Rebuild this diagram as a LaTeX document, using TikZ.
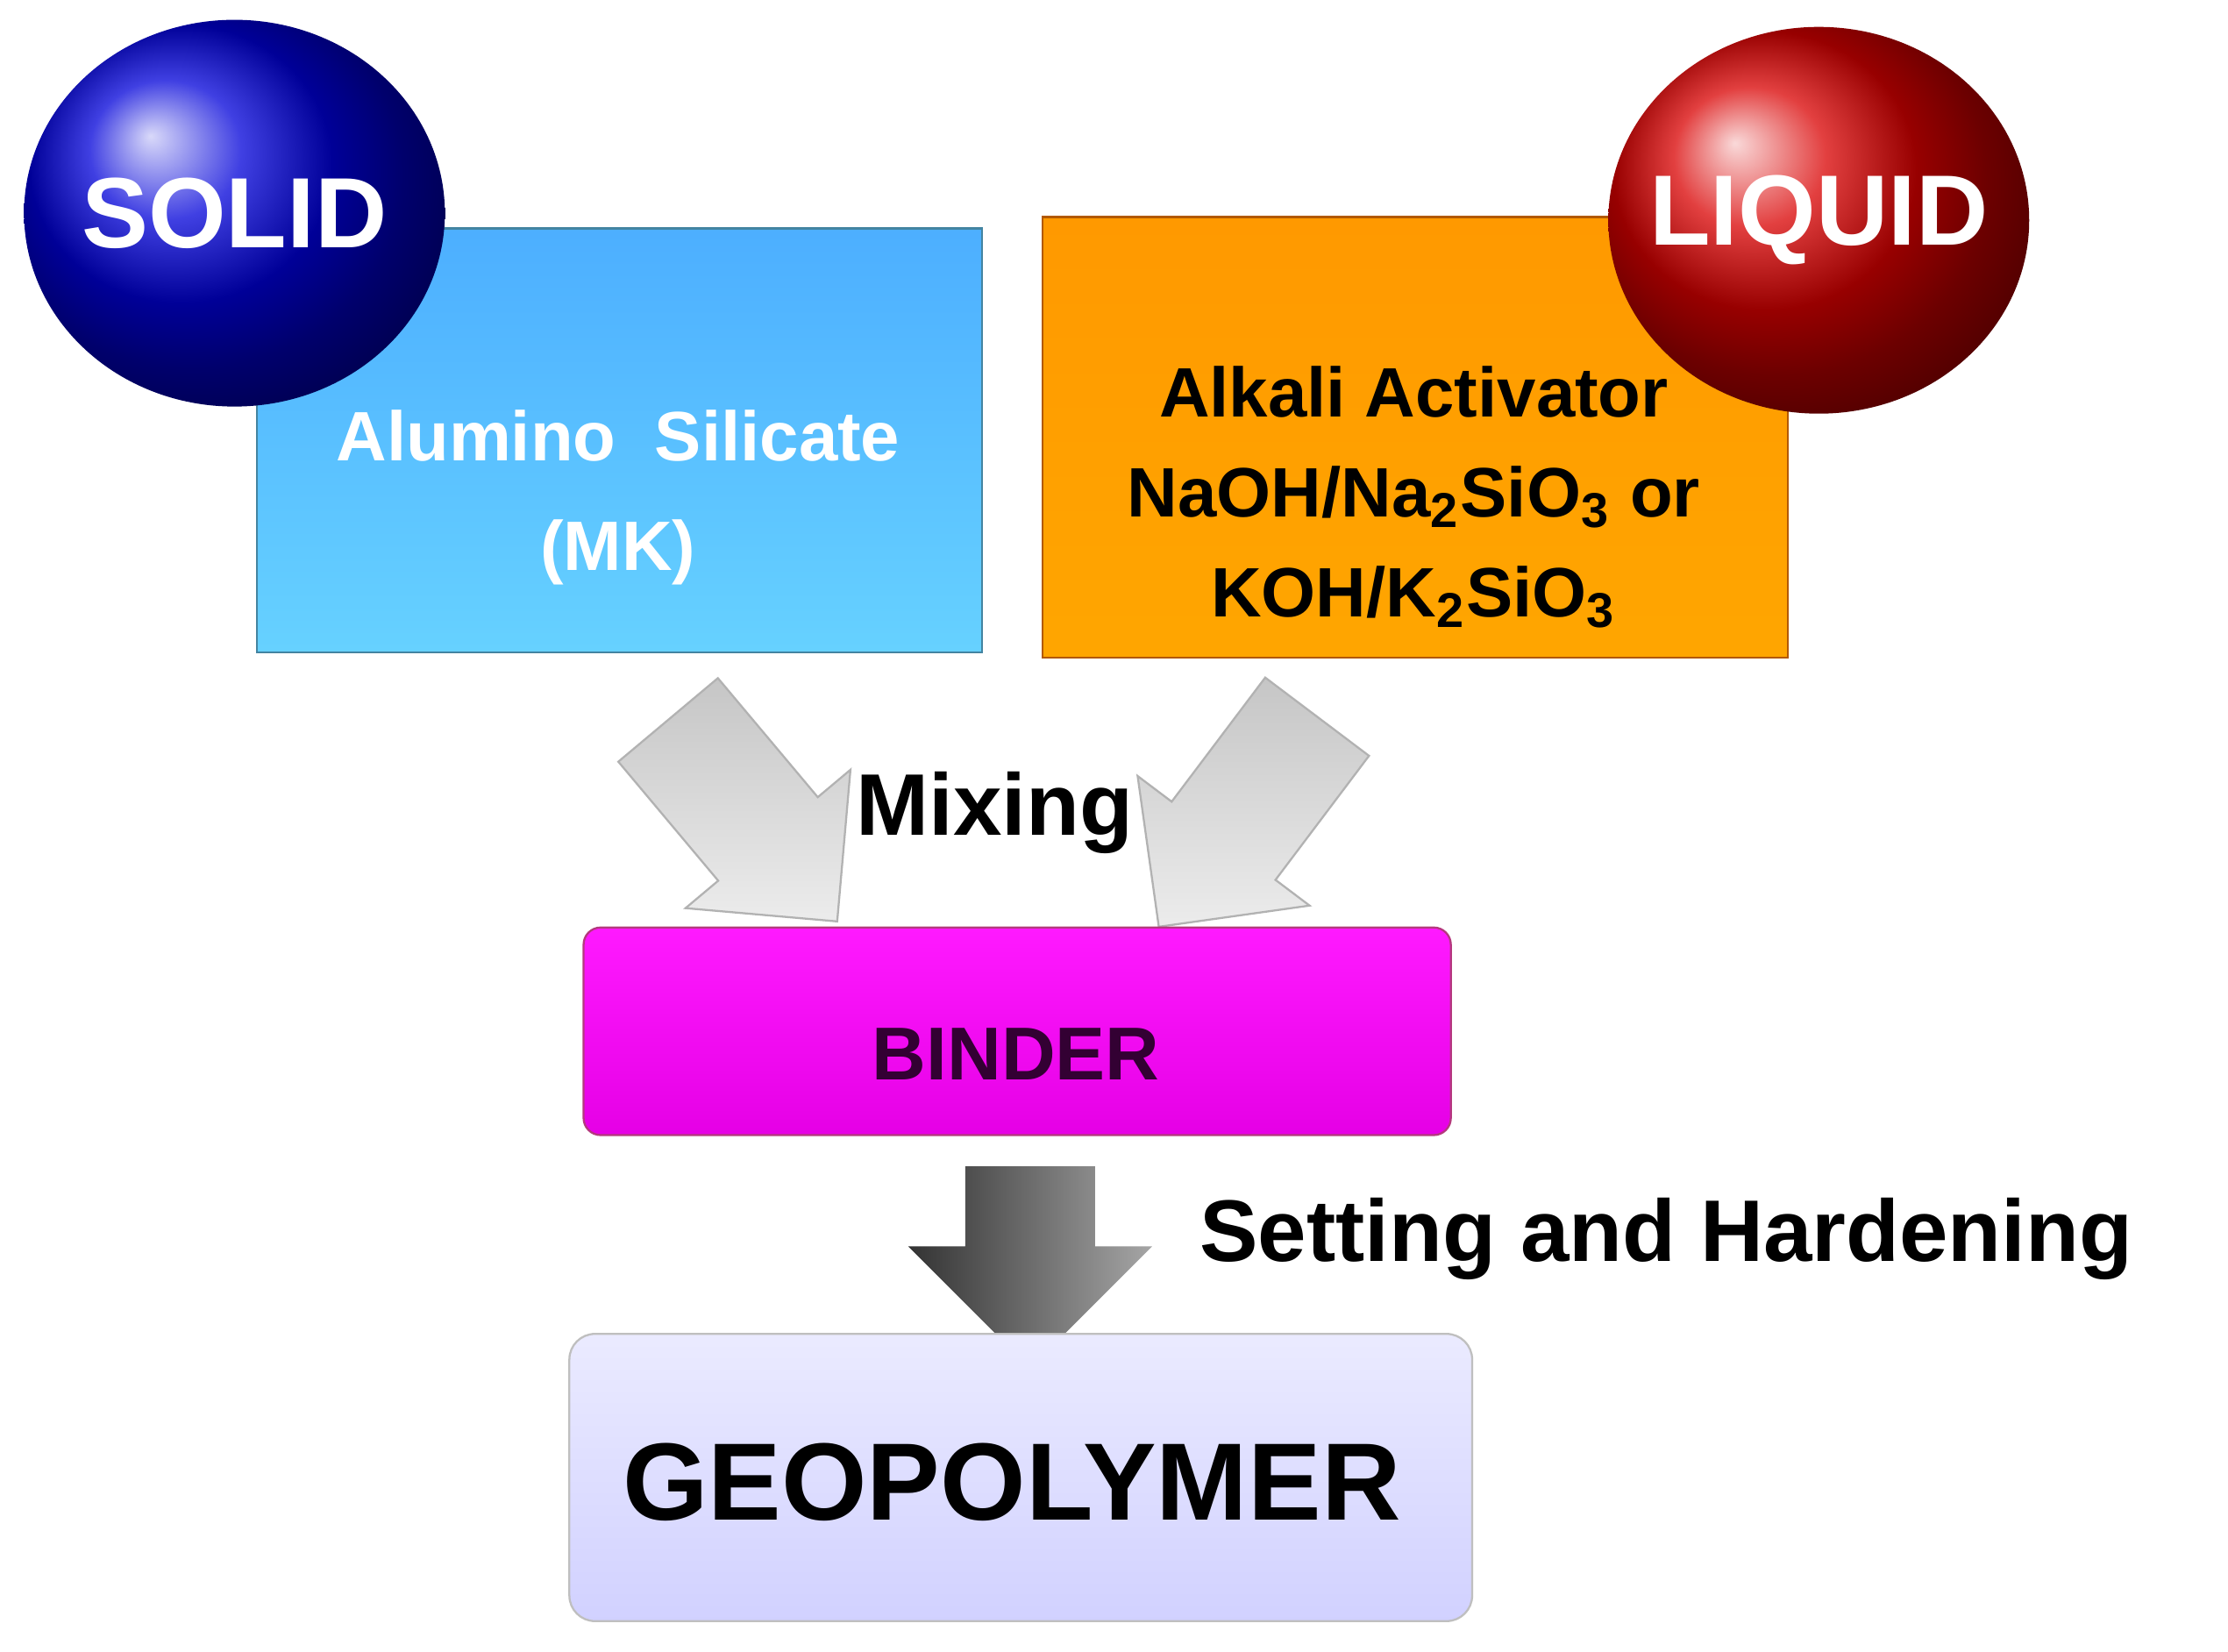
\documentclass[tikz,border=0pt]{standalone}
\usepackage{fontspec}
\setmainfont{Liberation Sans}
\usetikzlibrary{shapes.arrows,shapes.geometric}
\begin{document}
\begin{tikzpicture}[x=0.01cm,y=-0.01cm,
  box/.style={draw=none,inner sep=0},
  ball/.style={ellipse,minimum width=2.96cm,minimum height=2.72cm,inner sep=0},
  garrow/.style={single arrow,single arrow head extend=0.3cm,minimum width=1.5cm,inner sep=0,draw=gray!60,left color=gray!45,right color=gray!15,shading angle=0},
  lbl/.style={font=\bfseries\fontsize{17.5}{20}\selectfont}]
\useasboundingbox (0,0) rectangle (1568,1162);
\fill[white] (0,0) rectangle (1568,1162);
% boxes
\node[box,anchor=north west,minimum width=5.10cm,minimum height=2.98cm,top color=cyan!55!blue!70,bottom color=cyan!70!blue!60,draw=cyan!60!black] (solidbox) at (180,160) {};
\node[font=\bfseries\fontsize{14}{22}\selectfont,text=white,align=center] (soltext) at (435,350) {Alumino\ \ Silicate\\(MK)};
\node[box,anchor=north west,minimum width=5.24cm,minimum height=3.10cm,top color=orange!80!yellow,bottom color=orange!70!yellow,draw=orange!70!black] (liqbox) at (733,152) {};
% balls
\node[ball,ball color=blue!85!black] (solid) at (165,150) {};
\node[font=\bfseries\fontsize{20}{24}\selectfont,text=white] at (solid) {SOLID};
\node[ball,ball color=red!85!black] (liquid) at (1280,155) {};
\node[font=\bfseries\fontsize{20}{24}\selectfont,text=white] at (liquid) {LIQUID};
\node[font=\bfseries\fontsize{14}{20}\selectfont,align=center] (liqtext) at (995,350) {Alkali Activator\\NaOH/Na\textsubscript{2}SiO\textsubscript{3} or\\KOH/K\textsubscript{2}SiO\textsubscript{3}};
% mixing arrows
\node[garrow,minimum height=1.85cm,rotate=-50] (la) at (515,560) {\rule{0pt}{0.9cm}};
\node[garrow,minimum height=1.85cm,rotate=-127] (ra) at (885,560) {\rule{0pt}{0.9cm}};
\node[lbl] (mix) at (700,572) {Mixing};
% binder
\node[box,anchor=north west,minimum width=6.10cm,minimum height=1.46cm,rounded corners=0.12cm,top color=magenta!90,bottom color=magenta!80!violet,draw=magenta!70!black] (binder) at (410,652) {};
\node[font=\bfseries\fontsize{15}{18}\selectfont,text=violet!40!black] at (715,742) {BINDER};
% down arrow
\node[single arrow,single arrow head extend=0.4cm,minimum width=1.7cm,minimum height=1.42cm,inner sep=0,rotate=-90,left color=gray!40!black,right color=gray!70,shading angle=90,draw=none] (da) at (725,869) {\rule{0pt}{0.9cm}};
\node[lbl,anchor=west] (set) at (832,872) {Setting and Hardening};
% geopolymer
\node[box,anchor=north west,minimum width=6.35cm,minimum height=2.02cm,rounded corners=0.18cm,top color=blue!8,bottom color=blue!18,draw=gray!50] (geo) at (400,938) {};
\node[font=\bfseries\fontsize{22}{26}\selectfont] at (712,1043) {GEOPOLYMER};
\end{tikzpicture}
\end{document}
